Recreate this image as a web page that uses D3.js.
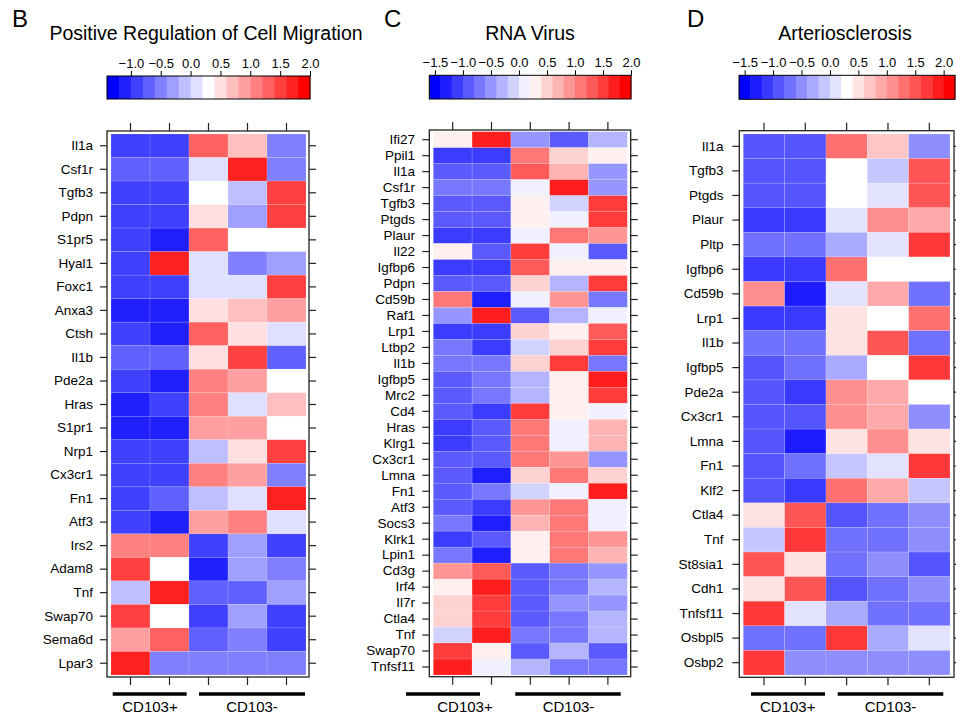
<!DOCTYPE html>
<html><head><meta charset="utf-8">
<script src="https://cdn.jsdelivr.net/npm/d3@7"></script>
<style>body{margin:0;background:#fff} svg{display:block} text{font-family:"Liberation Sans",Arial,Helvetica,sans-serif;fill:#000}</style>
</head><body><svg id="chart" width="956" height="719"></svg>
<script>
// ---------------- DATA ----------------
const groups = ["CD103+", "CD103-"];
const legendTicks = [-1.5, -1.0, -0.5, 0.0, 0.5, 1.0, 1.5, 2.0];

const titleB = "Positive Regulation of Cell Migration";
const genesB = ["Il1a","Csf1r","Tgfb3","Pdpn","S1pr5","Hyal1","Foxc1","Anxa3","Ctsh","Il1b","Pde2a","Hras","S1pr1","Nrp1","Cx3cr1","Fn1","Atf3","Irs2","Adam8","Tnf","Swap70","Sema6d","Lpar3"];
const valuesB = [
  [-0.9,-0.9, 1.3, 0.7,-0.5],
  [-0.7,-0.7, 0.1, 1.7,-0.5],
  [-0.9,-0.9, 0.3,-0.1, 1.5],
  [-0.9,-0.9, 0.5,-0.3, 1.5],
  [-0.9,-1.1, 1.3, 0.3, 0.3],
  [-0.9, 1.7, 0.1,-0.5,-0.3],
  [-0.9,-0.9, 0.1, 0.1, 1.5],
  [-1.1,-1.1, 0.5, 0.7, 0.9],
  [-0.9,-1.1, 1.3, 0.5, 0.1],
  [-0.7,-0.7, 0.5, 1.5,-0.7],
  [-0.9,-1.1, 1.1, 0.9, 0.3],
  [-1.1,-0.9, 1.1, 0.1, 0.7],
  [-1.1,-1.1, 0.9, 0.9, 0.3],
  [-0.9,-0.9,-0.1, 0.5, 1.5],
  [-0.9,-0.9, 1.1, 0.9,-0.5],
  [-0.9,-0.7,-0.1, 0.1, 1.7],
  [-0.9,-1.1, 0.9, 1.1, 0.1],
  [ 1.1, 1.1,-0.9,-0.3,-0.9],
  [ 1.5, 0.3,-1.1,-0.3,-0.5],
  [-0.1, 1.7,-0.7,-0.7,-0.3],
  [ 1.5, 0.3,-0.9,-0.3,-0.9],
  [ 0.9, 1.3,-0.7,-0.5,-0.9],
  [ 1.7,-0.5,-0.5,-0.5,-0.5]
];

const titleC = "RNA Virus";
const genesC = ["Ifi27","Ppil1","Il1a","Csf1r","Tgfb3","Ptgds","Plaur","Il22","Igfbp6","Pdpn","Cd59b","Raf1","Lrp1","Ltbp2","Il1b","Igfbp5","Mrc2","Cd4","Hras","Klrg1","Cx3cr1","Lmna","Fn1","Atf3","Socs3","Klrk1","Lpin1","Cd3g","Irf4","Il7r","Ctla4","Tnf","Swap70","Tnfsf11"];
const valuesC = [
  [ 0.3, 1.7,-0.5,-0.9,-0.3],
  [-1.1,-1.1, 1.1, 0.5, 0.3],
  [-0.9,-0.9, 1.3, 0.7,-0.5],
  [-0.7,-0.7, 0.1, 1.7,-0.5],
  [-0.9,-0.9, 0.3,-0.1, 1.5],
  [-0.9,-0.9, 0.3, 0.1, 1.5],
  [-1.1,-1.1, 0.1, 1.1, 0.9],
  [ 0.3,-0.9, 1.5, 0.1,-0.9],
  [-1.1,-1.1, 1.3, 0.3, 0.3],
  [-0.9,-0.9, 0.5,-0.3, 1.5],
  [ 1.1,-1.3, 0.1, 0.9,-0.7],
  [-0.5, 1.7,-0.9,-0.3, 0.1],
  [-1.1,-1.1, 0.5, 0.3, 1.3],
  [-0.7,-1.1,-0.1, 0.5, 1.5],
  [-0.7,-0.7, 0.5, 1.5,-0.7],
  [-0.9,-0.7,-0.3, 0.3, 1.7],
  [-0.9,-0.7,-0.3, 0.3, 1.5],
  [-0.9,-1.1, 1.5, 0.3, 0.1],
  [-1.1,-0.9, 1.1, 0.1, 0.7],
  [-1.1,-0.9, 1.1, 0.1, 0.7],
  [-0.9,-0.9, 1.1, 0.9,-0.5],
  [-0.9,-1.3, 0.5, 1.1, 0.5],
  [-0.9,-0.7,-0.1, 0.1, 1.7],
  [-0.9,-1.1, 0.9, 1.1, 0.1],
  [-0.7,-1.3, 0.7, 1.1, 0.1],
  [-1.1,-0.9, 0.3, 1.1, 0.9],
  [-0.7,-1.3, 0.3, 1.1, 0.7],
  [ 0.9, 1.3,-0.9,-0.7,-0.5],
  [ 0.3, 1.7,-0.9,-0.7,-0.3],
  [ 0.5, 1.5,-0.9,-0.5,-0.5],
  [ 0.5, 1.5,-0.9,-0.7,-0.3],
  [-0.1, 1.7,-0.7,-0.7,-0.3],
  [ 1.5, 0.3,-0.9,-0.3,-0.9],
  [ 1.7, 0.1,-0.3,-0.7,-0.7]
];

const titleD = "Arteriosclerosis";
const genesD = ["Il1a","Tgfb3","Ptgds","Plaur","Pltp","Igfbp6","Cd59b","Lrp1","Il1b","Igfbp5","Pde2a","Cx3cr1","Lmna","Fn1","Klf2","Ctla4","Tnf","St8sia1","Cdh1","Tnfsf11","Osbpl5","Osbp2"];
const valuesD = [
  [-0.9,-0.9, 1.3, 0.7,-0.5],
  [-0.9,-0.9, 0.3,-0.1, 1.5],
  [-0.9,-0.9, 0.3, 0.1, 1.5],
  [-1.1,-1.1, 0.1, 1.1, 0.9],
  [-0.7,-0.7,-0.3, 0.1, 1.7],
  [-1.1,-1.1, 1.3, 0.3, 0.3],
  [ 1.1,-1.3, 0.1, 0.9,-0.7],
  [-1.1,-1.1, 0.5, 0.3, 1.3],
  [-0.7,-0.7, 0.5, 1.5,-0.7],
  [-0.9,-0.7,-0.3, 0.3, 1.7],
  [-0.9,-1.1, 1.1, 0.9, 0.3],
  [-0.9,-0.9, 1.1, 0.9,-0.5],
  [-0.9,-1.3, 0.5, 1.1, 0.5],
  [-0.9,-0.7,-0.1, 0.1, 1.7],
  [-0.9,-1.1, 1.3, 0.9,-0.1],
  [ 0.5, 1.5,-0.9,-0.7,-0.5],
  [-0.1, 1.7,-0.7,-0.7,-0.5],
  [ 1.5, 0.5,-0.7,-0.5,-0.9],
  [ 0.5, 1.5,-0.9,-0.7,-0.5],
  [ 1.7, 0.1,-0.3,-0.7,-0.7],
  [-0.7,-0.7, 1.7,-0.3, 0.1],
  [ 1.7,-0.5,-0.5,-0.5,-0.5]
];

// colour-key ranges (min, max, number of bins)
const keyB = [-1.4, 2.0, 17];
const keyC = [-1.6, 2.0, 18];
const keyD = [-1.6, 2.2, 19];

// ---------------- LAYOUT ----------------
const panels = [
  {letter:"B", title:titleB, genes:genesB, values:valuesB, key:keyB,
   letterX:12, titleX:206, frame:[107,309,131,677], cells:[111,306,134,675],
   bar:[107,310,76,99], labelX:93,
   groupBars:[[112.7,186.7],[199,305]], groupLabelX:[150,252]},
  {letter:"C", title:titleC, genes:genesC, values:valuesC, key:keyC,
   letterX:384, titleX:530, frame:[429.3,630.7,130,676.7], cells:[433.3,627.3,131.7,675],
   bar:[429.3,631,75.3,99], labelX:415,
   groupBars:[[406,480],[515.3,620.7]], groupLabelX:[465,568.5]},
  {letter:"D", title:titleD, genes:genesD, values:valuesD, key:keyD,
   letterX:687, titleX:845, frame:[739.3,954,130.7,677.3], cells:[743.3,950,134,675],
   bar:[739,955,75.3,99.3], labelX:723.5,
   groupBars:[[751,825],[837.7,943.3]], groupLabelX:[787.7,890.5]}
];

const svg = d3.select("#chart");
const ramp = d3.piecewise(d3.interpolateRgb, ["#0000ff", "#ffffff", "#ff0000"]);
const fmt = v => (v < 0 ? "\u2212" : "") + Math.abs(v).toFixed(1);
const axisColor = "#222";

panels.forEach(p => {
  const g = svg.append("g");
  const [lo, hi, n] = p.key;
  const colors = d3.range(n).map(i => ramp(i / (n - 1)));
  const color = d3.scaleQuantize().domain([lo, hi]).range(colors);

  // letter and title
  g.append("text").attr("x", p.letterX).attr("y", 27.3).attr("font-size", 24)
    .text(p.letter);
  g.append("text").attr("x", p.titleX).attr("y", 40).attr("font-size", 19.5)
    .attr("text-anchor", "middle").text(p.title);

  // colour key
  const [bx0, bx1, by0, by1] = p.bar;
  const kx = d3.scaleLinear().domain([lo, hi]).range([bx0, bx1]);
  const step = (hi - lo) / n;
  g.append("g").selectAll("rect").data(colors).join("rect")
    .attr("x", (c, i) => kx(lo + i * step))
    .attr("width", (c, i) => kx(lo + (i + 1) * step) - kx(lo + i * step) + 0.4)
    .attr("y", by0).attr("height", by1 - by0)
    .attr("fill", c => c);
  g.append("rect").attr("x", bx0).attr("y", by0).attr("width", bx1 - bx0)
    .attr("height", by1 - by0).attr("fill", "none").attr("stroke", "#000").attr("stroke-width", 1);
  const ticks = legendTicks.filter(t => t >= lo - 1e-9 && t <= hi + 1e-9);
  const keyAxis = d3.axisTop(kx).tickValues(ticks).tickSize(5).tickPadding(3).tickFormat(fmt);
  const ka = g.append("g").attr("transform", `translate(0,${by0})`).call(keyAxis);
  ka.select(".domain").remove();
  ka.selectAll("line").attr("stroke", "#000");
  ka.selectAll("text").attr("font-size", 13).attr("font-family", "Liberation Sans, Arial, sans-serif").attr("fill", "#000");

  // heatmap
  const [cx0, cx1, cy0, cy1] = p.cells;
  const cols = d3.range(p.values[0].length);
  const x = d3.scaleBand().domain(cols).range([cx0, cx1]);
  const y = d3.scaleBand().domain(p.genes).range([cy0, cy1]);
  const cells = [];
  p.values.forEach((row, r) => row.forEach((v, c) => cells.push({gene: p.genes[r], col: c, v})));
  g.append("g").selectAll("rect").data(cells).join("rect")
    .attr("x", d => x(d.col)).attr("y", d => y(d.gene))
    .attr("width", x.bandwidth()).attr("height", y.bandwidth())
    .attr("fill", d => color(d.v))
    .attr("stroke", "rgba(255,255,255,0.22)").attr("stroke-width", 0.6);

  // frame
  const [fx0, fx1, fy0, fy1] = p.frame;
  g.append("rect").attr("x", fx0).attr("y", fy0).attr("width", fx1 - fx0).attr("height", fy1 - fy0)
    .attr("fill", "none").attr("stroke", axisColor).attr("stroke-width", 1.3);

  // axes
  const yl = d3.axisLeft(y).tickSize(7).tickPadding(7);
  const aL = g.append("g").attr("transform", `translate(${fx0},0)`).call(yl);
  const yr = d3.axisRight(y).tickSize(7).tickFormat("");
  const aR = g.append("g").attr("transform", `translate(${fx1},0)`).call(yr);
  const xt = d3.axisTop(x).tickSize(8).tickFormat("");
  const aT = g.append("g").attr("transform", `translate(0,${fy0})`).call(xt);
  const xb = d3.axisBottom(x).tickSize(8).tickFormat("");
  const aB = g.append("g").attr("transform", `translate(0,${fy1})`).call(xb);
  [aL, aR, aT, aB].forEach(a => {
    a.select(".domain").remove();
    a.selectAll("line").attr("stroke", axisColor).attr("stroke-width", 1.2);
  });
  aL.selectAll("text").attr("font-size", 13.5).attr("fill", "#000")
    .attr("font-family", "Liberation Sans, Arial, sans-serif")
    .attr("x", p.labelX - fx0);

  // group bars and labels
  groups.forEach((name, i) => {
    const [gx0, gx1] = p.groupBars[i];
    g.append("line").attr("x1", gx0).attr("x2", gx1).attr("y1", 694).attr("y2", 694)
      .attr("stroke", "#000").attr("stroke-width", 3.5);
    g.append("text").attr("x", p.groupLabelX[i]).attr("y", 712).attr("font-size", 15)
      .attr("text-anchor", "middle").text(name);
  });
});
</script></body></html>
